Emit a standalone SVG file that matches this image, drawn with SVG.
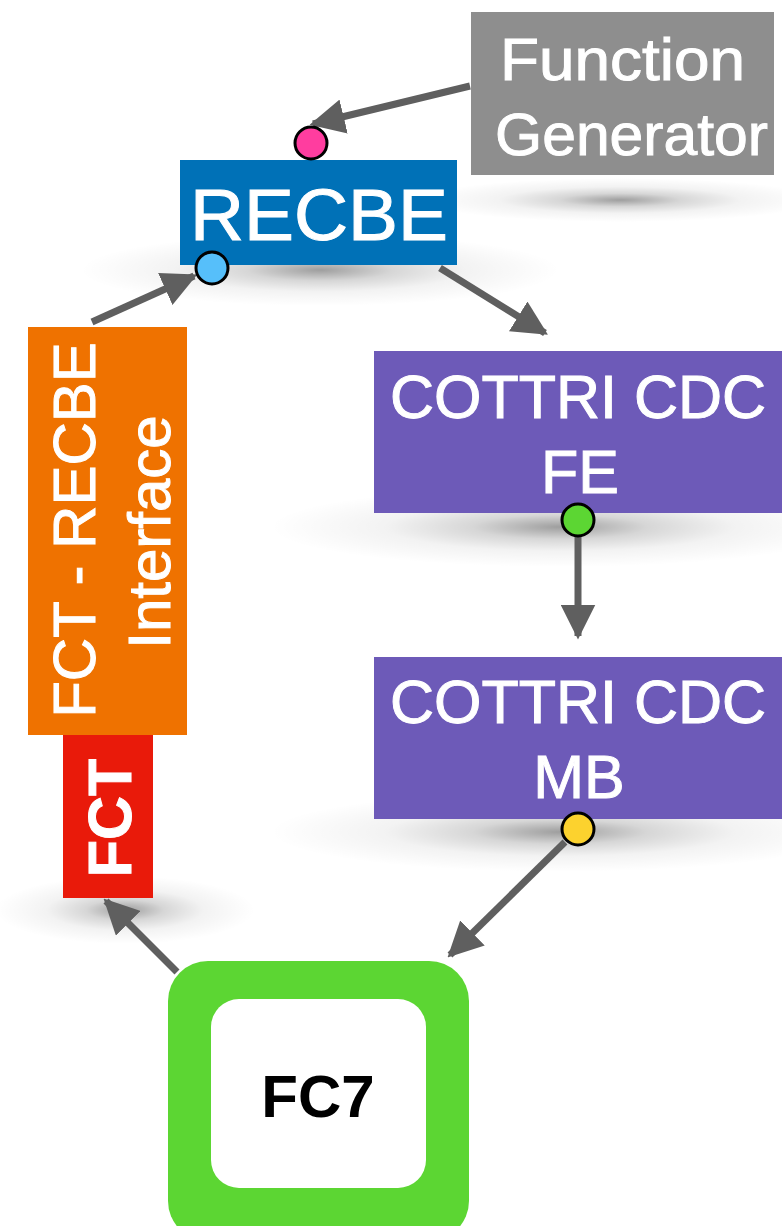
<svg xmlns="http://www.w3.org/2000/svg" width="782" height="1226" viewBox="0 0 782 1226">
<defs>
<radialGradient id="sh" cx="0.5" cy="0.5" r="0.5">
<stop offset="0" stop-color="#000" stop-opacity="0.38"/>
<stop offset="0.3" stop-color="#000" stop-opacity="0.16"/>
<stop offset="0.6" stop-color="#000" stop-opacity="0.05"/>
<stop offset="1" stop-color="#000" stop-opacity="0"/>
</radialGradient>
<marker id="ah" viewBox="0 0 10 10" refX="9" refY="5" markerWidth="5" markerHeight="5" orient="auto" markerUnits="strokeWidth">
<path d="M0,0 L10,5 L0,10 z" fill="#5f5f5f"/>
</marker>
</defs>
<style>
.lbl{font-family:"Liberation Sans",Arial,Helvetica,sans-serif;fill:#fff;text-anchor:middle;stroke:#fff;stroke-width:1}
.conn{stroke:#5f5f5f;stroke-width:7;fill:none;marker-end:url(#ah)}
.dot{stroke:#000;stroke-width:3}
</style>
<rect width="782" height="1226" fill="#fff"/>
<g id="shadows">
<ellipse cx="620" cy="200" rx="200" ry="22" fill="url(#sh)"/>
<ellipse cx="320" cy="270" rx="240" ry="36" fill="url(#sh)"/>
<ellipse cx="560" cy="527" rx="290" ry="40" fill="url(#sh)"/>
<ellipse cx="560" cy="832" rx="290" ry="40" fill="url(#sh)"/>
<ellipse cx="125" cy="910" rx="130" ry="34" fill="url(#sh)"/>
</g>
<g id="connectors">
<line class="conn" x1="470" y1="86" x2="313" y2="124"/>
<line class="conn" x1="92" y1="322" x2="194" y2="276"/>
<line class="conn" x1="440" y1="268" x2="545" y2="333"/>
<line class="conn" x1="578" y1="530" x2="578" y2="636"/>
<line class="conn" x1="565" y1="842" x2="450" y2="955"/>
<line class="conn" x1="177" y1="972" x2="106" y2="901"/>
</g>
<g id="function-generator">
<rect x="471" y="12" width="303" height="163" fill="#8e8e8e"/>
<text class="lbl" x="622.5" y="80" font-size="60" textLength="245" lengthAdjust="spacingAndGlyphs">Function</text>
<text class="lbl" x="631.5" y="155" font-size="60" textLength="273" lengthAdjust="spacingAndGlyphs">Generator</text>
</g>
<g id="recbe">
<rect x="180" y="160" width="277" height="105" fill="#0071b7"/>
<text class="lbl" x="319" y="240" font-size="73" textLength="258" lengthAdjust="spacingAndGlyphs">RECBE</text>
<circle class="dot" cx="311" cy="143" r="16" fill="#ff3d9f"/>
<circle class="dot" cx="212" cy="268" r="16" fill="#56bffa"/>
</g>
<g id="fct-recbe-interface">
<rect x="28" y="327" width="159" height="408" fill="#ef7200"/>
<text class="lbl" font-size="60" transform="translate(95,530) rotate(-90)">FCT - RECBE</text>
<text class="lbl" font-size="60" transform="translate(170,532) rotate(-90)">Interface</text>
</g>
<g id="fct">
<rect x="63" y="735" width="90" height="163" fill="#e91a0a"/>
<text class="lbl" font-size="61" font-weight="bold" transform="translate(131,818) rotate(-90)">FCT</text>
</g>
<g id="cottri-fe">
<rect x="374" y="351" width="408" height="162" fill="#6d5ab8"/>
<text class="lbl" x="578" y="418" font-size="61">COTTRI CDC</text>
<text class="lbl" x="580" y="493" font-size="61">FE</text>
<circle class="dot" cx="578" cy="520" r="16" fill="#5cd633"/>
</g>
<g id="cottri-mb">
<rect x="374" y="657" width="408" height="162" fill="#6d5ab8"/>
<text class="lbl" x="578" y="723" font-size="61">COTTRI CDC</text>
<text class="lbl" x="579" y="798" font-size="61">MB</text>
<circle class="dot" cx="578" cy="829" r="16" fill="#fcd22e"/>
</g>
<g id="fc7">
<rect x="168" y="961" width="301" height="280" rx="40" fill="#5cd633"/>
<rect x="211" y="999" width="215" height="189" rx="28" fill="#fff"/>
<text x="318" y="1117" font-size="60" font-weight="bold" text-anchor="middle" font-family="'Liberation Sans',Arial,sans-serif" fill="#000">FC7</text>
</g>
</svg>
